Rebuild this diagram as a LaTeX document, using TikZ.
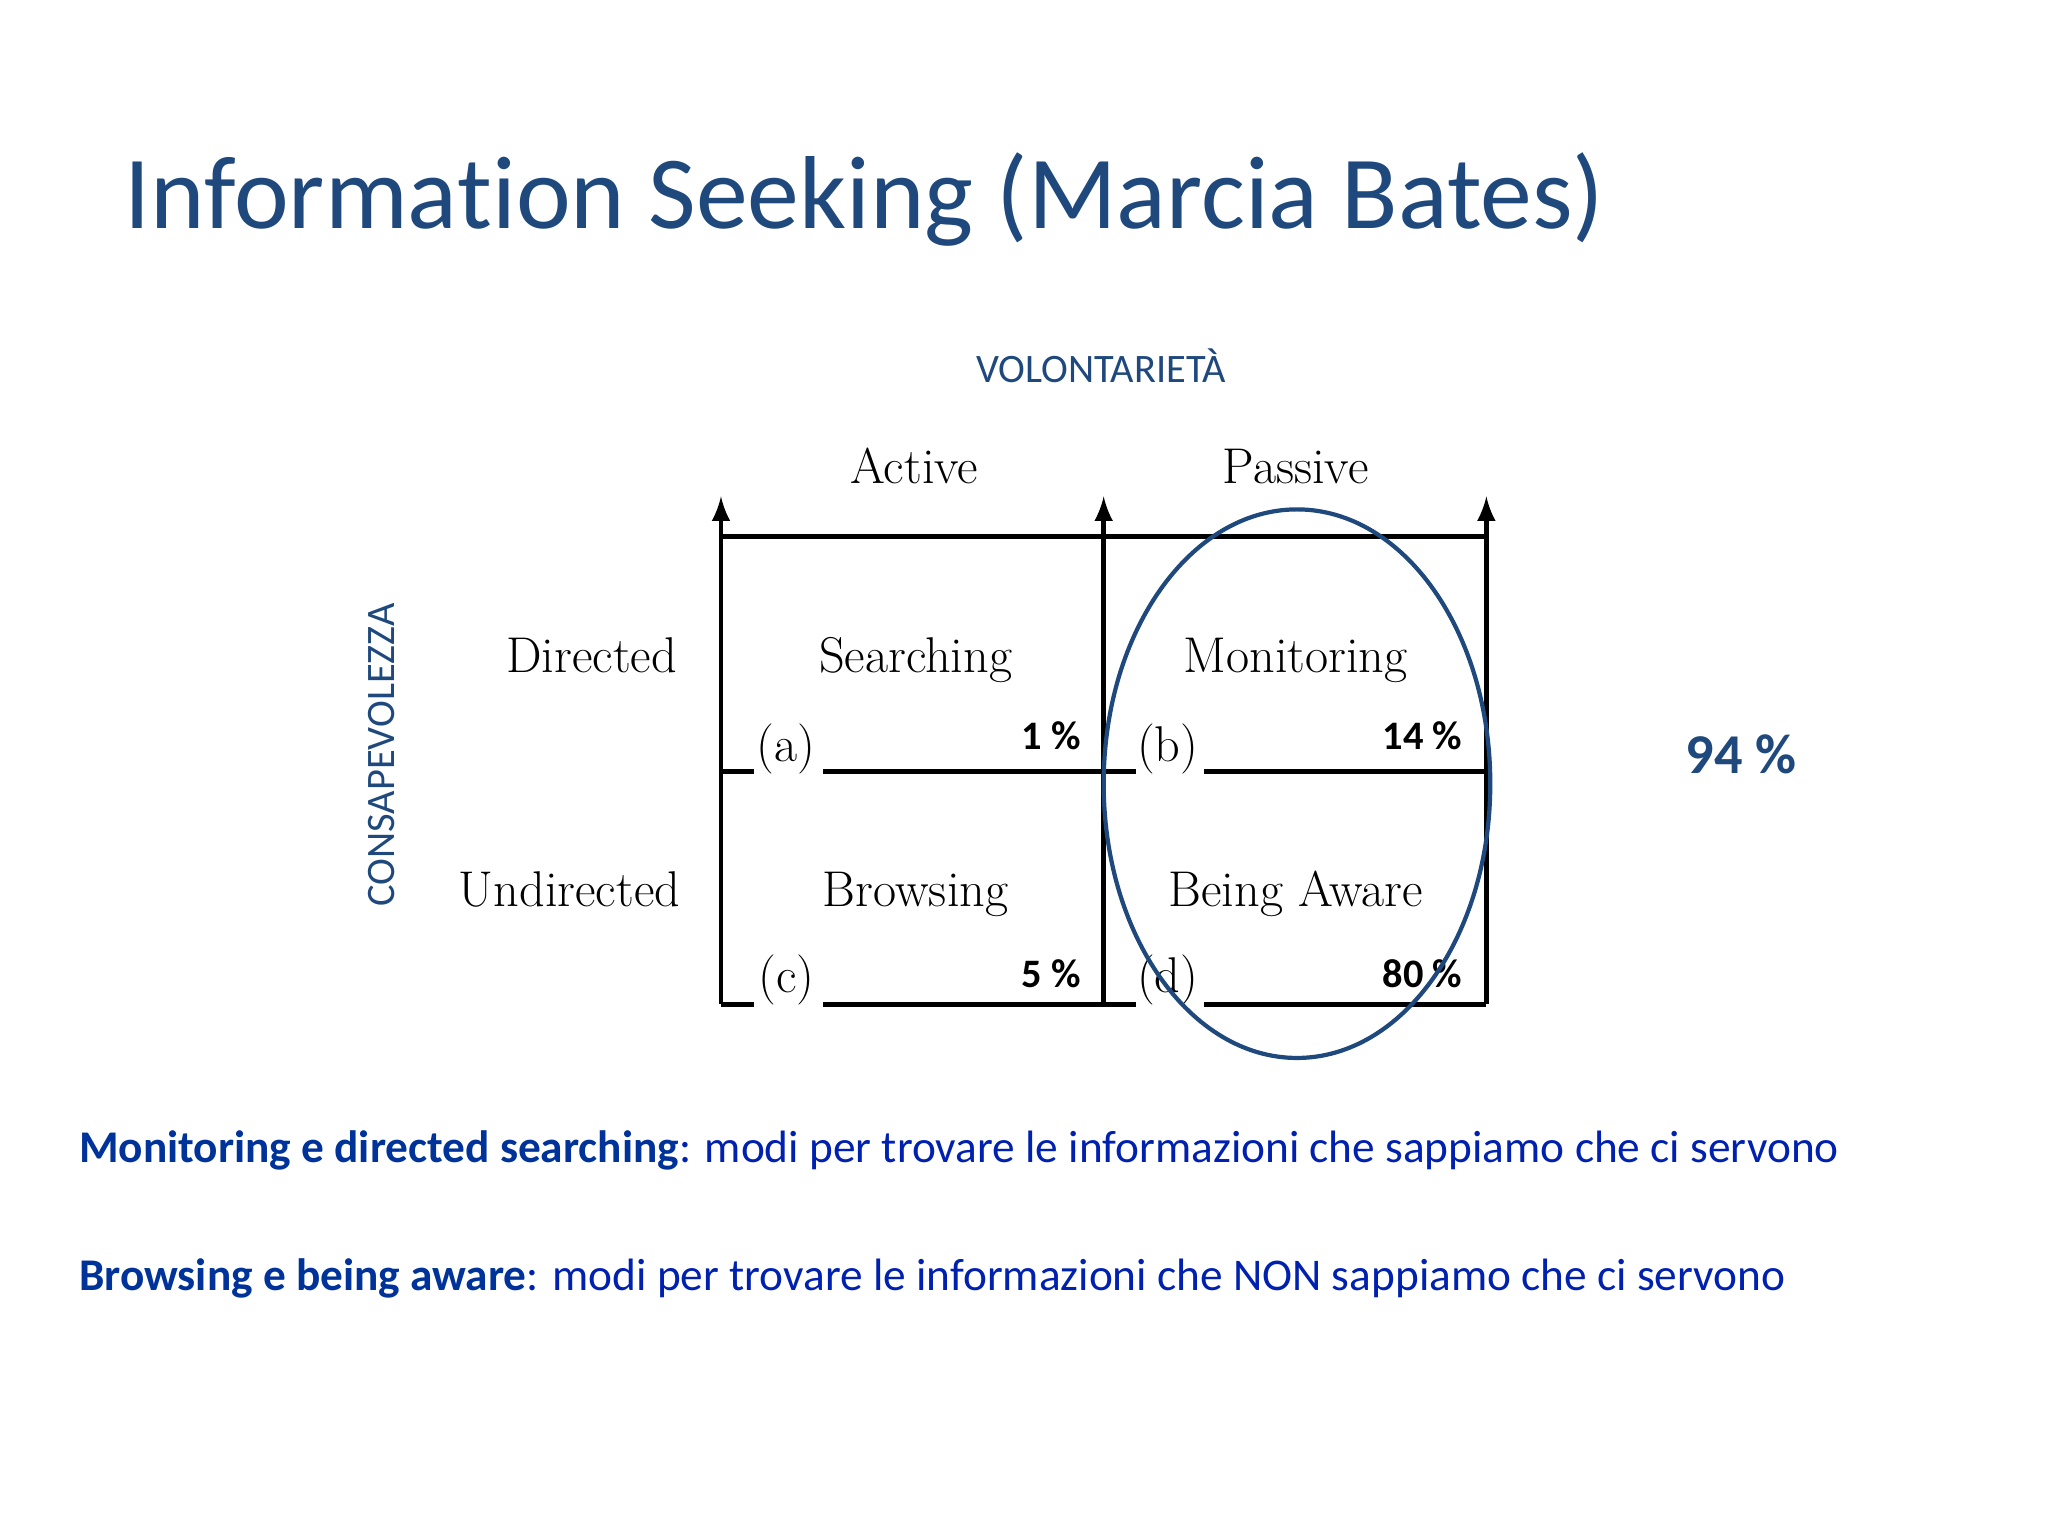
\documentclass[tikz,border=0pt]{standalone}
\usepackage{fontspec}
\setmainfont[Ligatures=NoCommon]{Carlito}
\newfontfamily\seriff{Latin Modern Roman}
\definecolor{tblue}{RGB}{31,73,125}
\definecolor{bblue}{RGB}{0,51,153}
\definecolor{rblue}{RGB}{0,32,176}
\begin{document}
\begin{tikzpicture}[x=0.01306cm,y=-0.01306cm,
  lab/.style={font=\seriff\fontsize{14.3}{17}\selectfont,anchor=base},
  pct/.style={font=\bfseries\fontsize{11.5}{14}\selectfont,anchor=base},
  ln/.style={line width=1.4pt},
  bt/.style={font=\fontsize{12.9}{15}\selectfont,anchor=base west,text=rblue,inner sep=0}]
\useasboundingbox (0,0) rectangle (1568,1176);
\node[anchor=base west,inner sep=0,text=tblue,font=\fontsize{29.5}{36}\selectfont] (title) at (95,175) {Informa\kern0pt tion Seeking (Marcia Bates)};
\node[anchor=base,text=tblue,font=\fontsize{11.5}{14}\selectfont] (vol) at (843,293) {VOLONTARIETÀ};
\node[anchor=base,text=tblue,font=\fontsize{11.5}{14}\selectfont,rotate=90] (cons) at (302,578) {CONSAPEVOLEZZA};
% grid
\coordinate (t1) at (552,380); \coordinate (t2) at (845,380); \coordinate (t3) at (1138,380);
\coordinate (b1) at (552,769); \coordinate (b2) at (845,769); \coordinate (b3) at (1138,769);
\draw[ln,-latex] (b1) -- (t1);
\draw[ln,-latex] (b2) -- (t2);
\draw[ln,-latex] (b3) -- (t3);
\draw[ln] (552,411) -- (1138,411);
\draw[ln] (552,591) -- (577,591) (630,591) -- (870,591) (922,591) -- (1138,591);
\draw[ln] (552,769) -- (577,769) (630,769) -- (870,769) (922,769) -- (1138,769);
\node[lab] (act) at (700,370) {Active};
\node[lab] (pas) at (992,370) {Passive};
\node[lab] (dir) at (453,515) {Directed};
\node[lab] (und) at (436,694) {Undirected};
\node[lab] (sea) at (701,515) {Searching};
\node[lab] (mon) at (992,515) {Monitoring};
\node[lab] (bro) at (701,694) {Browsing};
\node[lab] (bea) at (992,694) {Being Aware};
\node[lab] (a) at (602,583) {(a)};
\node[lab] (b) at (894,583) {(b)};
\node[lab] (c) at (602,760) {(c)};
\node[lab] (d) at (894,760) {(d)};
\node[pct] (p1) at (805,574) {1 \%};
\node[pct] (p2) at (1089,574) {14 \%};
\node[pct] (p3) at (805,756) {5 \%};
\node[pct] (p4) at (1089,756) {80 \%};
\node[anchor=base,text=tblue,font=\bfseries\fontsize{16}{19}\selectfont] (p94) at (1333,592) {94 \%};
\draw[tblue,line width=1.2pt] (993,600) ellipse [x radius=148, y radius=210];
\node[bt] (l1) at (60,890) {\textbf{\color{bblue}Monitoring e directed searching}: modi per trovare le informazioni che sappiamo che ci servono};
\node[bt] (l2) at (60,988) {\textbf{\color{bblue}Browsing e being aware}: modi per trovare le informazioni che NON sappiamo che ci servono};
\end{tikzpicture}
\end{document}
